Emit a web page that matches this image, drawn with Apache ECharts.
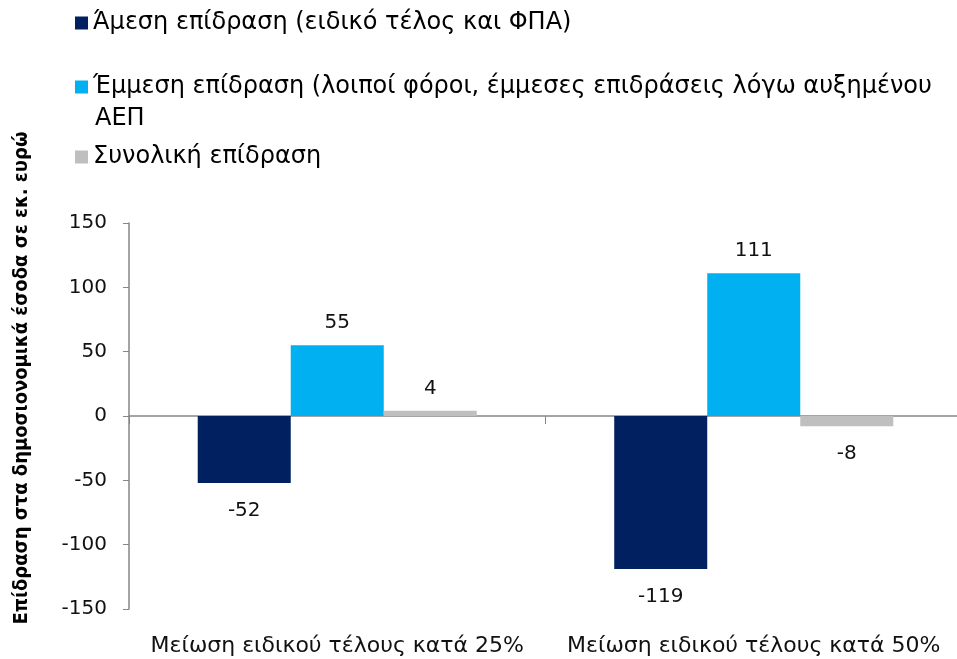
<!DOCTYPE html>
<html>
<head>
<meta charset="utf-8">
<script src="https://cdn.jsdelivr.net/npm/echarts@6/dist/echarts.min.js"></script>
<style>
  html, body { margin: 0; padding: 0; background: #fff; }
  #main { width: 957px; height: 659px; }
</style>
</head>
<body>
<div id="main"></div>
<script>
const categories = ['Μείωση ειδικού τέλους κατά 25%', 'Μείωση ειδικού τέλους κατά 50%']
const seriesNames = [
  'Άμεση επίδραση (ειδικό τέλος και ΦΠΑ)',
  'Έμμεση επίδραση (λοιποί φόροι, έμμεσες επιδράσεις λόγω αυξημένου ΑΕΠ',
  'Συνολική επίδραση',
]
const direct = [-52, -119]
const indirect = [55, 111]
const total = [4, -8]
const yMin = -150
const yMax = 150
const yInterval = 50
const yAxisName = 'Επίδραση στα δημοσιονομικά έσοδα σε εκ. ευρώ'

const colors = ['#002060', '#00B0F0', '#BFBFBF']
const font = 'DejaVu Sans, Verdana, sans-serif'
const condFont = 'DejaVu Sans Condensed, DejaVu Sans, sans-serif'

// one legend per item, the reference spaces them unevenly
const legendTops = [10, 74, 144]
function makeLegend(i) {
  return {
    data: [seriesNames[i]],
    orient: 'vertical',
    left: 75,
    top: legendTops[i],
    padding: 0,
    itemWidth: 13,
    itemHeight: 13,
    icon: 'rect',
    selectedMode: false,
    formatter: (name) => name.replace(' ΑΕΠ', ''),
    textStyle: { fontFamily: font, fontSize: 24, lineHeight: 26, color: '#000' },
  }
}

function barData(values) {
  return values.map(v => ({ value: v, label: { distance: v < 0 ? 18 : 12 } }))
}

function makeSeries(i, values) {
  return {
    name: seriesNames[i],
    type: 'bar',
    xAxisIndex: 0,
    barGap: '0%',
    barCategoryGap: '33%',
    itemStyle: { color: colors[i] },
    label: {
      show: true,
      position: 'outside',
      fontFamily: font,
      fontSize: 20,
      color: '#111',
    },
    data: barData(values),
  }
}

const chart = echarts.init(document.getElementById('main'))
chart.setOption({
  animation: false,
  legend: [makeLegend(0), makeLegend(1), makeLegend(2)],
  grid: { left: 129, right: -5, top: 223, bottom: 50, outerBoundsMode: 'none' },
  xAxis: [
    {
      type: 'category',
      data: categories,
      position: 'bottom',
      axisLine: { show: true, onZero: true, lineStyle: { color: '#868686', width: 1.5 } },
      axisTick: { show: true, length: 8, lineStyle: { color: '#868686' } },
      axisLabel: { show: false },
    },
    {
      type: 'category',
      data: categories,
      position: 'bottom',
      axisLine: { show: false, onZero: false },
      axisTick: { show: false },
      axisLabel: {
        interval: 0,
        hideOverlap: false,
        margin: 26,
        fontFamily: font,
        fontSize: 22,
        color: '#111',
      },
    },
  ],
  yAxis: {
    type: 'value',
    min: yMin,
    max: yMax,
    interval: yInterval,
    axisLine: { show: true, lineStyle: { color: '#868686', width: 1.5 } },
    axisTick: { show: true, length: 6, lineStyle: { color: '#868686' } },
    splitLine: { show: false },
    axisLabel: { margin: 22, fontFamily: font, fontSize: 20, color: '#111' },
  },
  graphic: [
    {
      type: 'text',
      left: 95,
      top: 107,
      style: { text: 'ΑΕΠ', font: '24px ' + font, fill: '#000' },
    },
    {
      type: 'text',
      x: 22,
      y: 378,
      rotation: Math.PI / 2,
      style: {
        text: yAxisName,
        font: 'bold 20px ' + condFont,
        fill: '#000',
        align: 'center',
        verticalAlign: 'middle',
      },
    },
  ],
  series: [
    makeSeries(0, direct),
    makeSeries(1, indirect),
    makeSeries(2, total),
  ],
})
</script>
</body>
</html>
